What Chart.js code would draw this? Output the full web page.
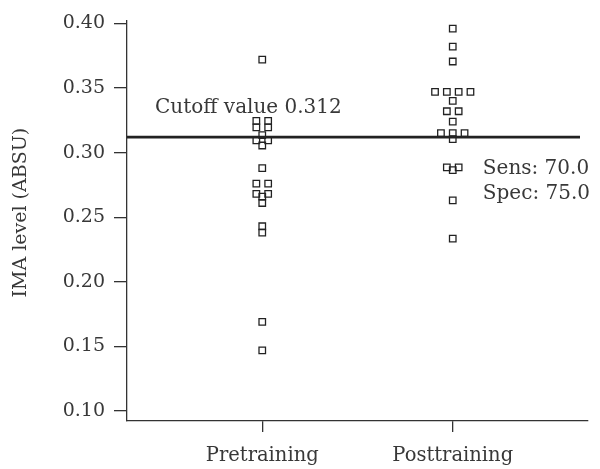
<!DOCTYPE html>
<html>
<head>
<meta charset="utf-8">
<script src="https://cdn.jsdelivr.net/npm/chart.js@4.4.1/dist/chart.umd.min.js"></script>
<style>
  html, body { margin: 0; padding: 0; background: #fff; }
  #wrap { width: 600px; height: 469px; }
</style>
</head>
<body>
<div id="wrap"><canvas id="dot-chart" width="600" height="469"></canvas></div>
<script>
// data
const groupLabels = ['Pretraining', 'Posttraining'];
const preValues = [0.372, 0.3245, 0.3245, 0.3195, 0.3195, 0.3135, 0.3095, 0.3095, 0.3055,
  0.288, 0.276, 0.276, 0.268, 0.268, 0.266, 0.261, 0.243, 0.238, 0.169, 0.147];
const postValues = [0.396, 0.382, 0.3705, 0.347, 0.347, 0.347, 0.347, 0.340, 0.332, 0.332,
  0.324, 0.315, 0.315, 0.315, 0.3105, 0.2885, 0.2885, 0.2865, 0.263, 0.2335];
const yTickValues = [0.10, 0.15, 0.20, 0.25, 0.30, 0.35, 0.40];
const cutoffValue = 0.312;
const cutoffLabel = 'Cutoff value 0.312';
const statLabels = ['Sens: 70.0', 'Spec: 75.0'];
const yTitle = 'IMA level (ABSU)';

const textColor = '#383838';
const serif = '"DejaVu Serif", serif';

// spread equal values side by side around the group centre
function spread(values, center) {
  const counts = {};
  values.forEach(v => { counts[v] = (counts[v] || 0) + 1; });
  const seen = {};
  return values.map(v => {
    seen[v] = seen[v] === undefined ? 0 : seen[v] + 1;
    return { x: center + (seen[v] - (counts[v] - 1) / 2) * 0.062, y: v };
  });
}

const notesPlugin = {
  id: 'notes',
  afterDatasetsDraw(chart) {
    const { ctx, scales: { x, y } } = chart;
    ctx.save();
    ctx.font = '20px ' + serif;
    ctx.fillStyle = textColor;
    ctx.textBaseline = 'middle';
    ctx.fillText(cutoffLabel, x.getPixelForValue(0.437), y.getPixelForValue(0.3346));
    ctx.fillText(statLabels[0], x.getPixelForValue(2.158), y.getPixelForValue(0.2877));
    ctx.fillText(statLabels[1], x.getPixelForValue(2.158), y.getPixelForValue(0.2685));
    // axis title, centred on the tick range
    ctx.translate(21, y.getPixelForValue(0.2535));
    ctx.rotate(-Math.PI / 2);
    ctx.textAlign = 'center';
    ctx.font = '19px ' + serif;
    ctx.fillText(yTitle, 0, 0);
    ctx.restore();
  },
};

const boxStyle = {
  type: 'scatter',
  pointStyle: 'rect',
  pointRadius: 4.6,
  borderWidth: 1.3,
  borderColor: '#222',
  backgroundColor: 'rgba(0,0,0,0)',
};

const ctx = document.getElementById('dot-chart').getContext('2d');
new Chart(ctx, {
  data: {
    datasets: [
      {
        type: 'line',
        data: [{ x: 0.29, y: cutoffValue }, { x: 2.668, y: cutoffValue }],
        borderColor: '#222',
        borderWidth: 2.6,
        pointRadius: 0,
      },
      Object.assign({ label: groupLabels[0], data: spread(preValues, 1) }, boxStyle),
      Object.assign({ label: groupLabels[1], data: spread(postValues, 2) }, boxStyle),
    ],
  },
  options: {
    responsive: false,
    animation: false,
    devicePixelRatio: 1,
    layout: { padding: { top: 18, right: 12, left: 0, bottom: 0 } },
    plugins: { legend: { display: false }, tooltip: { enabled: false } },
    scales: {
      x: {
        type: 'linear',
        min: 0.29,
        max: 2.71,
        afterBuildTicks: (scale) => { scale.ticks = [{ value: 1 }, { value: 2 }]; },
        afterFit: (scale) => { scale.height = 48; },
        ticks: {
          callback: (value) => groupLabels[value - 1],
          font: { family: serif, size: 19.5 },
          color: textColor,
          padding: 12,
          maxRotation: 0,
        },
        grid: { drawOnChartArea: false, tickLength: 11, color: '#333', lineWidth: 1.3 },
        border: { color: '#333', width: 1.3 },
      },
      y: {
        min: 0.0923,
        max: 0.4023,
        afterBuildTicks: (scale) => { scale.ticks = yTickValues.map(v => ({ value: v })); },
        afterFit: (scale) => { scale.width = 127; },
        ticks: {
          callback: (value) => value.toFixed(2),
          font: { family: serif, size: 19 },
          color: textColor,
          padding: 9,
        },
        grid: { drawOnChartArea: false, tickLength: 13, color: '#333', lineWidth: 1.3 },
        border: { color: '#333', width: 1.3 },
      },
    },
  },
  plugins: [notesPlugin],
});
</script>
</body>
</html>
